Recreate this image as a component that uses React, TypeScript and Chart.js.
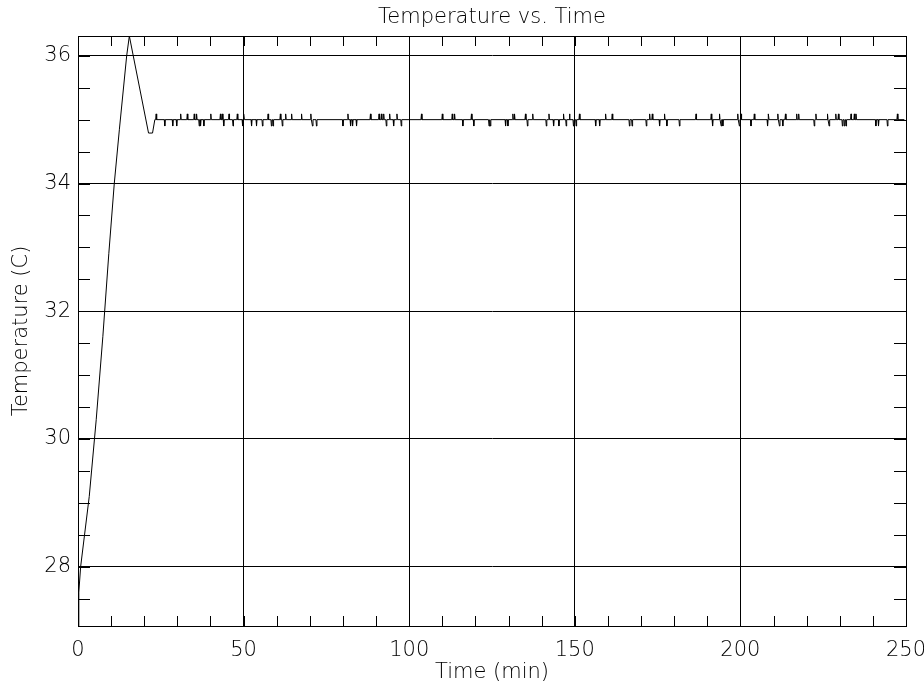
import React, { useEffect, useRef } from "react";
import { Chart, registerables } from "chart.js";

Chart.register(...registerables);

// ---- data ----
const chartTitle = "Temperature vs. Time";
const xTitle = "Time (min)";
const yTitle = "Temperature (C)";

const xTickValues = [0, 50, 100, 150, 200, 250];
const yTickValues = [28, 30, 32, 34, 36];
const xMinorStep = 10;
const yMinorStep = 0.5;
const xMin = 0;
const xMax = 250;
const yMin = 27.07;
const yMax = 36.31;

// warm-up ramp, overshoot and settling
const rampTime = [0, 0.25, 0.8, 3.4, 5.5, 7.5, 9.3, 10.95, 12.5, 14.7, 15.5, 21.3, 22.5, 23.2];
const rampTemp = [27.07, 27.6, 28.0, 29.1, 30.3, 31.6, 32.9, 34.0, 34.85, 36.0, 36.31, 34.79, 34.79, 35.0];

// steady state: level and the one-sample excursions around it
const baselineTemp = 35.0;
const steadyEnd = 249.5;
const spikeTime = [
  23.6, 26.2, 28.6, 29.8, 31.0, 33.0, 35.1, 35.8, 36.6, 37.0, 38.0, 40.1, 43.0, 43.6, 44.0, 45.6, 46.8, 48.1, 49.7, 50.1,
  52.4, 53.9, 55.7, 57.4, 58.4, 58.9, 61.1, 61.7, 62.7, 64.5, 67.5, 70.3, 70.8, 72.0, 80.0, 81.5, 82.3, 82.9, 84.1, 88.3,
  90.9, 91.6, 92.3, 93.1, 94.1, 95.3, 96.3, 97.6, 103.7, 110.0, 113.0, 113.7, 116.2, 118.8, 119.5, 124.1, 124.5, 129.1, 129.8, 131.3,
  131.8, 135.1, 135.7, 137.3, 141.4, 142.2, 143.6, 145.2, 146.6, 147.4, 148.4, 149.6, 150.4, 151.4, 156.3, 157.5, 159.3, 161.3, 166.5, 167.3,
  171.6, 172.6, 173.4, 175.6, 177.1, 177.8, 181.6, 186.6, 191.2, 191.6, 193.7, 194.2, 194.7, 199.2, 199.7, 200.2, 203.2, 204.2, 208.2, 208.5,
  211.3, 211.8, 212.8, 213.6, 217.0, 217.6, 222.3, 222.8, 226.3, 226.8, 228.8, 229.6, 230.8, 231.4, 231.9, 233.4, 234.4, 234.9, 240.9, 241.7,
  244.4, 247.4,
];
const spikeTemp = [
  35.09, 34.9, 34.9, 34.9, 35.09, 35.09, 35.09, 35.09, 34.9, 34.9, 34.9, 35.09, 35.09, 35.09, 34.9, 35.09, 34.9, 35.09, 34.9, 35.09,
  34.9, 34.9, 34.9, 35.09, 34.9, 34.9, 35.09, 34.9, 35.09, 35.09, 35.09, 35.09, 34.9, 34.9, 34.9, 35.09, 34.9, 34.9, 34.9, 35.09,
  35.09, 35.09, 35.09, 34.9, 35.09, 34.9, 35.09, 34.9, 35.09, 35.09, 35.09, 35.09, 34.9, 35.09, 34.9, 34.9, 34.9, 34.9, 34.9, 35.09,
  35.09, 35.09, 34.9, 35.09, 34.9, 35.09, 34.9, 34.9, 35.09, 34.9, 35.09, 34.9, 34.9, 35.09, 34.9, 34.9, 35.09, 35.09, 34.9, 34.9,
  34.9, 35.09, 35.09, 34.9, 35.09, 34.9, 34.9, 35.09, 35.09, 34.9, 35.09, 34.9, 34.9, 35.09, 34.9, 35.09, 34.9, 35.09, 34.9, 35.09,
  35.09, 34.9, 34.9, 35.09, 35.09, 35.09, 34.9, 35.09, 35.09, 34.9, 35.09, 35.09, 34.9, 34.9, 34.9, 35.09, 35.09, 35.09, 34.9, 34.9,
  34.9, 35.09,
];
const spikeHalfWidth = 0.15;

const FONT_FAMILY = "'DejaVu Sans', sans-serif";
const INK = "#000";

function buildPoints() {
  const pts: { x: number; y: number }[] = [];
  rampTime.forEach((t, i) => pts.push({ x: t, y: rampTemp[i] }));
  spikeTime.forEach((t, i) => {
    pts.push({ x: t - spikeHalfWidth, y: baselineTemp });
    pts.push({ x: t, y: spikeTemp[i] });
    pts.push({ x: t + spikeHalfWidth, y: baselineTemp });
  });
  pts.push({ x: steadyEnd, y: baselineTemp });
  return pts;
}

const inwardTicks = {
  id: "inwardTicks",
  afterDatasetsDraw(chart: any) {
    const { ctx, chartArea } = chart;
    const { left, right, top, bottom } = chartArea;
    const xs = chart.scales.x;
    const ys = chart.scales.y;
    ctx.save();
    ctx.strokeStyle = INK;
    ctx.lineWidth = 1;
    ctx.beginPath();
    const nx = Math.round((xMax - xMin) / xMinorStep);
    for (let i = 0; i <= nx; i++) {
      const px = Math.round(xs.getPixelForValue(xMin + i * xMinorStep)) + 0.5;
      ctx.moveTo(px, bottom);
      ctx.lineTo(px, bottom - 10);
      ctx.moveTo(px, top);
      ctx.lineTo(px, top + 10);
    }
    const y0 = Math.ceil(yMin / yMinorStep) * yMinorStep;
    const ny = Math.floor((yMax - y0) / yMinorStep + 1e-9);
    for (let i = 0; i <= ny; i++) {
      const py = Math.round(ys.getPixelForValue(y0 + i * yMinorStep)) + 0.5;
      ctx.moveTo(left, py);
      ctx.lineTo(left + 12, py);
      ctx.moveTo(right, py);
      ctx.lineTo(right - 12, py);
    }
    ctx.stroke();
    ctx.strokeRect(Math.round(left) + 0.5, Math.round(top) + 0.5, Math.round(right) - Math.round(left), Math.round(bottom) - Math.round(top));
    ctx.restore();
  },
};

export default function App() {
  const ref = useRef<HTMLCanvasElement | null>(null);
  useEffect(() => {
    if (!ref.current) return;
    const font = { family: FONT_FAMILY, size: 21, weight: "200" as any };
    const chart = new Chart(ref.current, {
      type: "line",
      data: {
        datasets: [
          {
            data: buildPoints(),
            borderColor: INK,
            borderWidth: 1,
            pointRadius: 0,
            tension: 0,
            fill: false,
          },
        ],
      },
      options: {
        animation: false,
        responsive: false,
        devicePixelRatio: 1,
        layout: { padding: { left: 0, right: 18, top: 0, bottom: 0 } },
        plugins: {
          legend: { display: false },
          tooltip: { enabled: false },
          title: {
            display: true,
            text: chartTitle,
            color: INK,
            font,
            fullSize: false,
            padding: { top: 5, bottom: 5.8 },
          },
        },
        scales: {
          x: {
            type: "linear",
            min: xMin,
            max: xMax,
            afterBuildTicks: (s: any) => {
              s.ticks = xTickValues.map((v) => ({ value: v }));
            },
            afterFit: (s: any) => {
              s.height = 64;
              s.paddingLeft = 0;
              s.paddingRight = 0;
            },
            grid: { color: INK, lineWidth: 1, drawTicks: false },
            border: { display: true, color: INK, width: 1 },
            ticks: { color: INK, font, padding: 12, maxRotation: 0, autoSkip: false },
            title: { display: true, text: xTitle, color: INK, font, padding: { top: 0, bottom: 5 } },
          },
          y: {
            type: "linear",
            min: yMin,
            max: yMax,
            afterBuildTicks: (s: any) => {
              s.ticks = yTickValues.map((v) => ({ value: v }));
            },
            afterFit: (s: any) => {
              s.width = 78;
              s.paddingTop = 0;
              s.paddingBottom = 0;
            },
            grid: { color: INK, lineWidth: 1, drawTicks: false },
            border: { display: true, color: INK, width: 1 },
            ticks: { color: INK, font, padding: 7, autoSkip: false },
            title: { display: true, text: yTitle, color: INK, font, padding: { top: 9, bottom: 0 } },
          },
        },
      },
      plugins: [inwardTicks],
    });
    return () => chart.destroy();
  }, []);
  return (
    <div style={{ position: "fixed", left: 0, top: 0, width: 924, height: 690, background: "#fff" }}>
      <canvas ref={ref} width={924} height={690} style={{ display: "block" }} />
    </div>
  );
}
